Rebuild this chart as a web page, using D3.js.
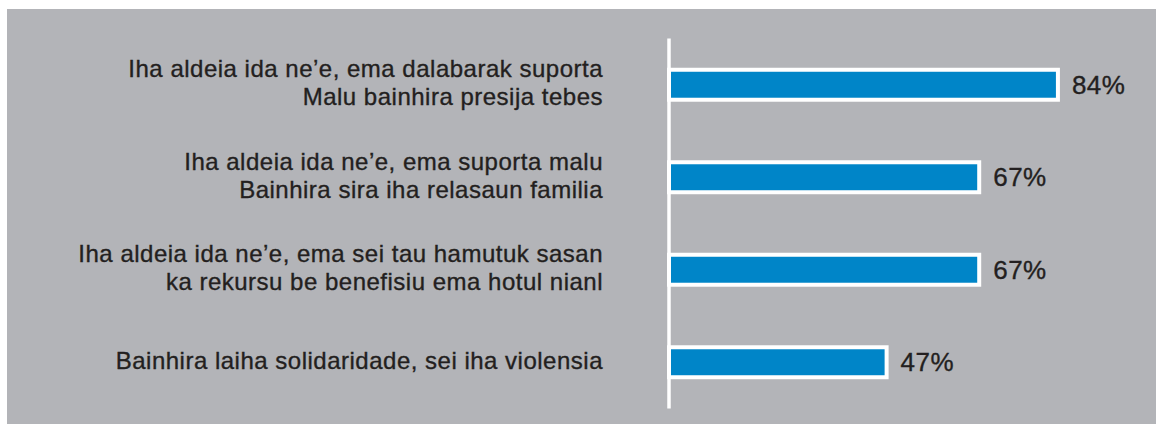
<!DOCTYPE html>
<html>
<head>
<meta charset="utf-8">
<script src="https://cdn.jsdelivr.net/npm/d3@7"></script>
<style>
  body { margin: 0; background: #fff; }
  text { font-family: "Liberation Sans", Arial, sans-serif; fill: #231f20; stroke: #231f20; stroke-width: 0.35px; }
</style>
</head>
<body>
<svg id="chart" width="1156" height="424"></svg>
<script>
// categories (two lines each), values in percent
const categories = [
  ["Iha aldeia ida ne’e, ema dalabarak suporta", "Malu bainhira presija tebes"],
  ["Iha aldeia ida ne’e, ema suporta malu", "Bainhira sira iha relasaun familia"],
  ["Iha aldeia ida ne’e, ema sei tau hamutuk sasan", "ka rekursu be benefisiu ema hotul nianl"],
  ["Bainhira laiha solidaridade, sei iha violensia"]
];
const values = [84, 67, 67, 47];
const valueLabels = ["84%", "67%", "67%", "47%"];

const data = categories.map((c, i) => ({ key: i, lines: c, value: values[i], label: valueLabels[i] }));

let svg = d3.select("#chart");

svg.append("rect")
  .attr("x", 7)
  .attr("y", 9)
  .attr("width", 1149)
  .attr("height", 415)
  .attr("fill", "#b3b4b8")
  .attr("stroke", "none");

let xScale = d3.scaleLinear().domain([0, 100]).range([669, 1132]);
let yScale = d3.scaleBand()
  .domain(data.map(d => d.key))
  .range([38.5, 408.5])
  .paddingInner(0.676)
  .paddingOuter(0.338);

// bars
svg.selectAll(".bar")
  .data(data)
  .enter()
  .append("rect")
  .attr("class", "bar")
  .attr("x", xScale(0))
  .attr("y", d => yScale(d.key))
  .attr("width", d => xScale(d.value) - xScale(0))
  .attr("height", yScale.bandwidth())
  .attr("fill", "#0085c8")
  .attr("stroke", "#fff")
  .attr("stroke-width", 4);

// axis line
svg.append("line")
  .attr("x1", xScale(0))
  .attr("x2", xScale(0))
  .attr("y1", yScale.range()[0])
  .attr("y2", yScale.range()[1])
  .attr("stroke", "#fff")
  .attr("stroke-width", 3.5);

// category labels
let labels = svg.selectAll(".cat")
  .data(data)
  .enter()
  .append("text")
  .attr("class", "cat")
  .attr("text-anchor", "end")
  .attr("font-size", "24px")
  .attr("letter-spacing", "0.5px");

labels.selectAll("tspan")
  .data(d => d.lines.map((l, j) => ({ l: l, j: j, n: d.lines.length, key: d.key })))
  .enter()
  .append("tspan")
  .attr("x", 603)
  .attr("y", t => yScale(t.key) + yScale.bandwidth() / 2 + (t.j - (t.n - 1) / 2) * 28 + 6.5)
  .text(t => t.l);

// value labels
svg.selectAll(".nums")
  .data(data)
  .enter()
  .append("text")
  .attr("class", "nums")
  .attr("x", d => xScale(d.value) + 14)
  .attr("y", d => yScale(d.key) + yScale.bandwidth() / 2 + 9)
  .attr("font-size", "26px")
  .attr("letter-spacing", "0.5px")
  .text(d => d.label);
</script>
</body>
</html>
